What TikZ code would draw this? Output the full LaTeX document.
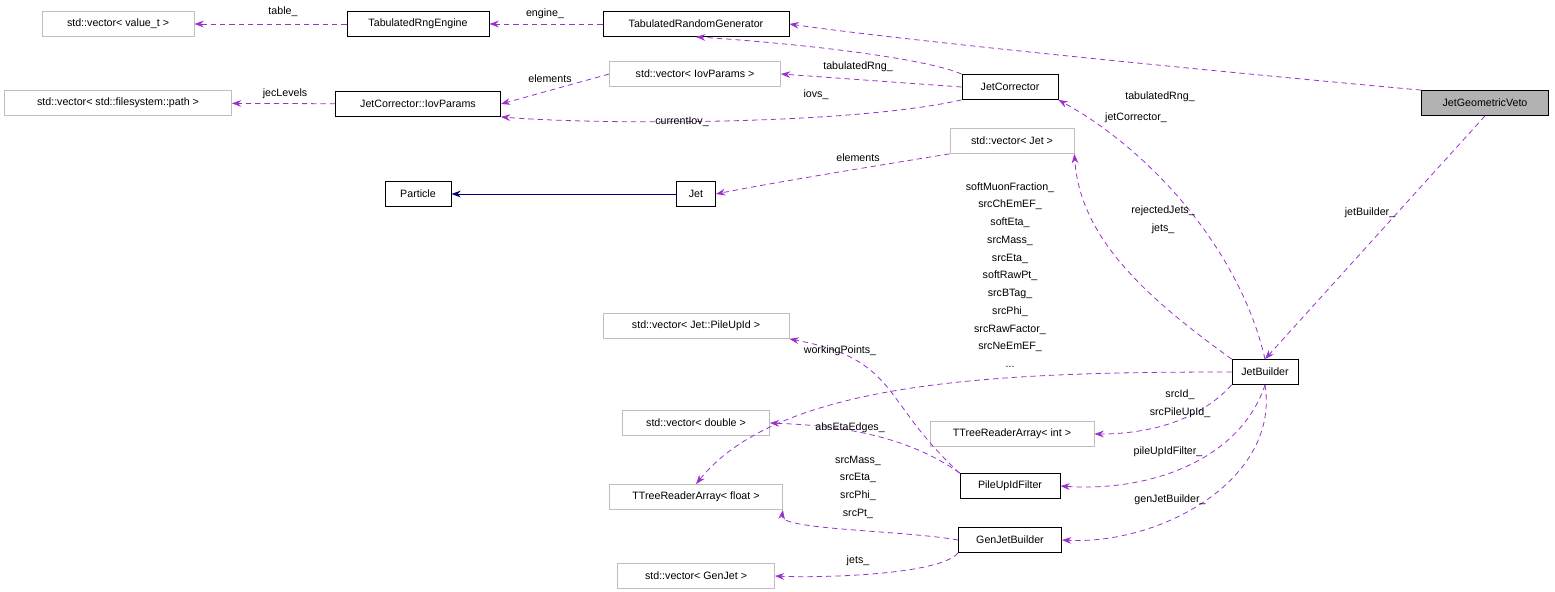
\documentclass[tikz,border=0pt]{standalone}
\usepackage{fontspec}
\setmainfont{Liberation Sans}
\usetikzlibrary{arrows.meta}
\definecolor{edgec}{RGB}{153,50,204}
\definecolor{greyb}{RGB}{191,191,191}
\begin{document}
\begin{tikzpicture}[x=0.75pt,y=-0.75pt,
  every node/.style={font=\fontsize{8}{13.3}\selectfont, inner sep=0pt},
  box/.style={draw=black, fill=white, minimum height=18.75pt, minimum width=#1*0.75pt, line width=0.6pt},
  gbox/.style={draw=greyb, fill=white, minimum height=18.75pt, minimum width=#1*0.75pt, line width=0.6pt},
  dep/.style={draw=edgec, dashed, dash pattern=on 4pt off 3pt, line width=0.6pt, -{Stealth[length=7pt,width=5pt,fill=edgec]}},
  inh/.style={draw=black!30!blue!60!black, line width=0.6pt, -{Stealth[length=7pt,width=5pt,fill=black!30!blue!60!black]}},
  lab/.style={align=center}]
\useasboundingbox (0,0) rectangle (1555,592);
\node[gbox=152] (vval) at (118,24) {std::vector< value\_t >};
\node[box=142] (eng) at (418,24) {TabulatedRngEngine};
\node[box=186] (trg) at (696,24) {TabulatedRandomGenerator};
\node[box=127, fill=black!30] (veto) at (1485,103) {JetGeometricVeto};
\node[gbox=171] (viov) at (695,74) {std::vector< IovParams >};
\node[box=96] (jc) at (1010,87) {JetCorrector};
\node[gbox=227] (vpath) at (118,103) {std::vector< std::filesystem::path >};
\node[box=165] (iov) at (418,104) {JetCorrector::IovParams};
\node[gbox=124] (vjet) at (1012,141) {std::vector< Jet >};
\node[box=66] (part) at (418,194) {Particle};
\node[box=39] (jet) at (696,194) {Jet};
\node[gbox=186] (vpu) at (696,326) {std::vector< Jet::PileUpId >};
\node[box=66] (jb) at (1265,372) {JetBuilder};
\node[gbox=147] (vdbl) at (696,423) {std::vector< double >};
\node[gbox=164] (tint) at (1012,434) {TTreeReaderArray< int >};
\node[box=100] (puf) at (1010,486) {PileUpIdFilter};
\node[gbox=173] (tflt) at (696,497) {TTreeReaderArray< float >};
\node[box=103] (gjb) at (1010,540) {GenJetBuilder};
\node[gbox=157] (vgj) at (696,576) {std::vector< GenJet >};

\draw[dep] (eng) -- (vval);
\draw[dep] (trg) -- (eng);
\draw[dep] (veto.north west) .. controls (1200,70) and (900,40) .. (trg.east);
\draw[dep] (jc.north west) .. controls (930,60) and (820,45) .. (trg.south);
\draw[dep] (jc.west) -- (viov.east);
\draw[dep] (viov.west) -- (iov.east);
\draw[dep] (iov) -- (vpath);
\draw[dep] (jc.south west) .. controls (850,125) and (600,125) .. (iov.south east);
\draw[dep] (jb.north) .. controls (1240,250) and (1150,150) .. (jc.south east);
\draw[dep] (veto.south) -- (jb.north);
\draw[inh] (jet) -- (part);
\draw[dep] (vjet.south west) .. controls (880,165) and (760,185) .. (jet.east);
\draw[dep] (jb.north west) .. controls (1150,300) and (1080,240) .. (vjet.south east);
\draw[dep] (jb.west) .. controls (1000,372) and (780,380) .. (tflt.north);
\draw[dep] (puf.north west) .. controls (880,400) and (900,360) .. (vpu.south east);
\draw[dep] (puf.north west) .. controls (900,430) and (820,425) .. (vdbl.east);
\draw[dep] (jb.south west) .. controls (1200,420) and (1150,434) .. (tint.east);
\draw[dep] (jb.south) .. controls (1240,460) and (1150,492) .. (puf.east);
\draw[dep] (jb.south) .. controls (1280,480) and (1160,545) .. (gjb.east);
\draw[dep] (gjb.west) .. controls (900,530) and (780,530) .. (tflt.south east);
\draw[dep] (gjb.south west) .. controls (940,575) and (820,578) .. (vgj.east);

\node[lab] (l1) at (283,12) {table\_};
\node[lab] (l2) at (545,14) {engine\_};
\node[lab] (l3) at (1160,97) {tabulatedRng\_};
\node[lab] (l4) at (858,67) {tabulatedRng\_};
\node[lab] (l5) at (816,95) {iovs\_};
\node[lab] (l6) at (550,79) {elements};
\node[lab] (l7) at (285,94) {jecLevels};
\node[lab] (l8) at (682,122) {currentIov\_};
\node[lab] (l9) at (1136,118) {jetCorrector\_};
\node[lab] (l10) at (1370,213) {jetBuilder\_};
\node[lab] (l11) at (858,158) {elements};
\node[lab] (l12) at (1163,220) {rejectedJets\_\\jets\_};
\node[lab] (l13) at (1010,275) {softMuonFraction\_\\srcChEmEF\_\\softEta\_\\srcMass\_\\srcEta\_\\softRawPt\_\\srcBTag\_\\srcPhi\_\\srcRawFactor\_\\srcNeEmEF\_\\...};
\node[lab] (l14) at (840,351) {workingPoints\_};
\node[lab] (l15) at (850,428) {absEtaEdges\_};
\node[lab] (l16) at (1180,404) {srcId\_\\srcPileUpId\_};
\node[lab] (l17) at (1168,452) {pileUpIdFilter\_};
\node[lab] (l18) at (1170,500) {genJetBuilder\_};
\node[lab] (l19) at (858,487) {srcMass\_\\srcEta\_\\srcPhi\_\\srcPt\_};
\node[lab] (l20) at (858,561) {jets\_};
\end{tikzpicture}
\end{document}
